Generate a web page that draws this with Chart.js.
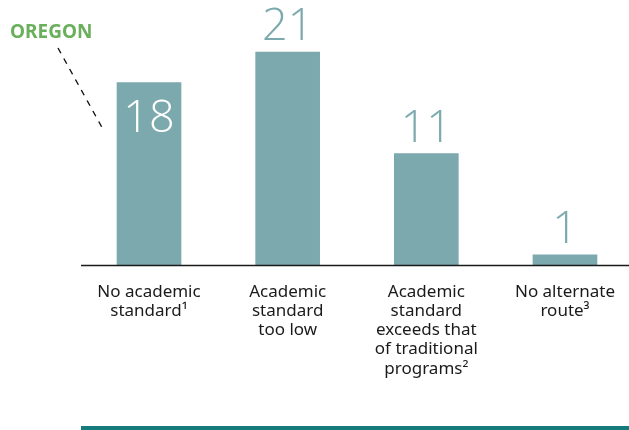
<!DOCTYPE html>
<html>
<head>
<meta charset="utf-8">
<script src="https://cdn.jsdelivr.net/npm/chart.js@4"></script>
<style>
html,body{margin:0;padding:0;background:#fff;overflow:hidden;}
#wrap{width:629px;height:430px;position:relative;}
</style>
</head>
<body>
<div id="wrap"><canvas id="c" width="629" height="430"></canvas></div>
<script>
const categories = [
  ["No academic", "standard\u00B9"],
  ["Academic", "standard", "too low"],
  ["Academic", "standard", "exceeds that", "of traditional", "programs\u00B2"],
  ["No alternate", "route\u00B3"]
];
const values = [18, 21, 11, 1];
const insideLabel = [true, false, false, false];
const calloutLabel = "OREGON";

const BAR = "#7BA9AE";
const FONT = "'Noto Sans', 'Open Sans', sans-serif";

const decor = {
  id: "decor",
  afterDatasetsDraw(chart) {
    const ctx = chart.ctx;
    const meta = chart.getDatasetMeta(0);
    ctx.save();
    // axis line
    const yb = chart.scales.y.getPixelForValue(0);
    ctx.strokeStyle = "#1a1a1a";
    ctx.lineWidth = 1.6;
    ctx.beginPath();
    ctx.moveTo(81, yb + 0.5);
    ctx.lineTo(629, yb + 0.5);
    ctx.stroke();
    // value labels
    ctx.font = "300 45px 'Open Sans', 'Noto Sans', sans-serif";
    ctx.textAlign = "center";
    meta.data.forEach((bar, i) => {
      if (insideLabel[i]) {
        ctx.fillStyle = "#ffffff";
        ctx.textBaseline = "alphabetic";
        ctx.fillText(String(values[i]), bar.x, bar.y + 49);
      } else {
        ctx.fillStyle = BAR;
        ctx.textBaseline = "alphabetic";
        ctx.fillText(String(values[i]), bar.x, bar.y - 12);
      }
    });
    // callout
    ctx.font = "bold 19px " + FONT;
    ctx.fillStyle = "#6AAF5C";
    ctx.textAlign = "left";
    ctx.textBaseline = "alphabetic";
    ctx.fillText(calloutLabel, 10, 38);
    ctx.strokeStyle = "#111";
    ctx.lineWidth = 1.4;
    ctx.setLineDash([6, 6]);
    ctx.beginPath();
    ctx.moveTo(58, 48);
    ctx.lineTo(104, 131);
    ctx.stroke();
    ctx.setLineDash([]);
    // bottom rule
    ctx.fillStyle = "#157B7B";
    ctx.fillRect(81, 426, 548, 4);
    ctx.restore();
  }
};

new Chart(document.getElementById("c"), {
  type: "bar",
  data: {
    datasets: [{
      data: values.map((v, i) => ({ x: i, y: v })),
      backgroundColor: BAR,
      barThickness: 64,
      borderWidth: 0
    }]
  },
  options: {
    responsive: false,
    animation: false,
    events: [],
    layout: { padding: { left: 80, right: 3, top: 42, bottom: 5 } },
    plugins: { legend: { display: false }, tooltip: { enabled: false } },
    scales: {
      x: {
        type: "linear",
        offset: false,
        min: -0.4976,
        max: 3.44,
        grid: { display: false, drawTicks: false, offset: false },
        border: { display: false },
        afterBuildTicks(s) { s.ticks = categories.map((c, i) => ({ value: i })); },
        afterFit(s) { s.height = 160; s.paddingLeft = 0; s.paddingRight = 0; },
        ticks: {
          autoSkip: false,
          maxRotation: 0,
          padding: 18,
          color: "#1a1a1a",
          font: { family: FONT, size: 17, lineHeight: 1.12 },
          callback: (v) => categories[v]
        }
      },
      y: {
        display: false,
        min: 0,
        max: 22
      }
    }
  },
  plugins: [decor]
});
</script>
</body>
</html>
